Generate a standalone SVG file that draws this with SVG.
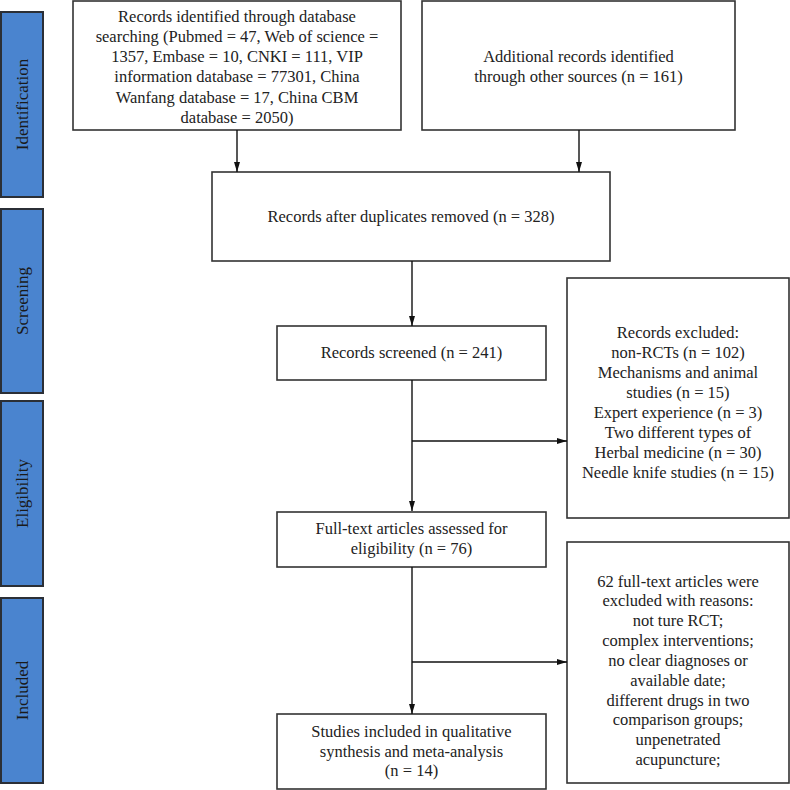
<svg xmlns="http://www.w3.org/2000/svg" width="790" height="790" viewBox="0 0 790 790">
<style>
.bg{fill:#ffffff}
.box{fill:#ffffff;stroke:#333333;stroke-width:1.6}
.bar{fill:#4a84cf;stroke:#2b2f36;stroke-width:2}
.t{font-family:"Liberation Serif","Times New Roman",serif;font-size:16.5px;fill:#222222;text-anchor:middle;dominant-baseline:central}
.bt{font-family:"Liberation Serif","Times New Roman",serif;font-size:17px;fill:#1a1a1a;text-anchor:middle;dominant-baseline:central}
.ln{stroke:#111111;stroke-width:1.4;fill:none}
</style>
<defs>
<marker id="ah" viewBox="0 0 10 6" refX="10" refY="3" markerWidth="10" markerHeight="6" markerUnits="userSpaceOnUse" orient="auto">
<path d="M0,0 L10,3 L0,6 Z" fill="#111111"/>
</marker>
</defs>
<rect class="bg" x="0" y="0" width="790" height="790"/>

<g id="bar-identification">
<rect class="bar" x="1" y="12" width="42" height="185"/>
<text class="bt" transform="translate(22,104.5) rotate(-90)">Identification</text>
</g>
<g id="bar-screening">
<rect class="bar" x="1" y="209" width="42" height="184"/>
<text class="bt" transform="translate(22,301) rotate(-90)">Screening</text>
</g>
<g id="bar-eligibility">
<rect class="bar" x="1" y="401" width="42" height="185"/>
<text class="bt" transform="translate(22,493.5) rotate(-90)">Eligibility</text>
</g>
<g id="bar-included">
<rect class="bar" x="1" y="598" width="42" height="185"/>
<text class="bt" transform="translate(22,690.5) rotate(-90)">Included</text>
</g>

<g id="node-database">
<rect class="box" x="73" y="1" width="328" height="129"/>
<text class="t" x="237" y="16">Records identified through database</text>
<text class="t" x="237" y="36">searching (Pubmed = 47, Web of science =</text>
<text class="t" x="237" y="56">1357, Embase = 10, CNKI = 111, VIP</text>
<text class="t" x="237" y="76">information database = 77301, China</text>
<text class="t" x="237" y="97">Wanfang database = 17, China CBM</text>
<text class="t" x="237" y="117">database = 2050)</text>
</g>

<g id="node-additional">
<rect class="box" x="422" y="1" width="313" height="129"/>
<text class="t" x="578.5" y="56">Additional records identified</text>
<text class="t" x="578.5" y="76">through other sources (n = 161)</text>
</g>

<g id="node-duplicates">
<rect class="box" x="212" y="172" width="398" height="89"/>
<text class="t" x="411" y="216">Records after duplicates removed (n = 328)</text>
</g>

<g id="node-screened">
<rect class="box" x="277" y="326" width="269" height="54"/>
<text class="t" x="411.5" y="352">Records screened (n = 241)</text>
</g>

<g id="node-excluded1">
<rect class="box" x="567" y="278" width="222" height="240"/>
<text class="t" x="678" y="332">Records excluded:</text>
<text class="t" x="678" y="352">non-RCTs (n = 102)</text>
<text class="t" x="678" y="372">Mechanisms and animal</text>
<text class="t" x="678" y="392">studies (n = 15)</text>
<text class="t" x="678" y="412">Expert experience (n = 3)</text>
<text class="t" x="678" y="432">Two different types of</text>
<text class="t" x="678" y="452">Herbal medicine (n = 30)</text>
<text class="t" x="678" y="472">Needle knife studies (n = 15)</text>
</g>

<g id="node-fulltext">
<rect class="box" x="277" y="512" width="269" height="55"/>
<text class="t" x="411.5" y="528">Full-text articles assessed for</text>
<text class="t" x="411.5" y="548">eligibility (n = 76)</text>
</g>

<g id="node-excluded2">
<rect class="box" x="567" y="542" width="222" height="241"/>
<text class="t" x="678" y="581">62 full-text articles were</text>
<text class="t" x="678" y="600">excluded with reasons:</text>
<text class="t" x="678" y="620">not ture RCT;</text>
<text class="t" x="678" y="640">complex interventions;</text>
<text class="t" x="678" y="660">no clear diagnoses or</text>
<text class="t" x="678" y="680">available date;</text>
<text class="t" x="678" y="700">different drugs in two</text>
<text class="t" x="678" y="719">comparison groups;</text>
<text class="t" x="678" y="739">unpenetrated</text>
<text class="t" x="678" y="759">acupuncture;</text>
</g>

<g id="node-included">
<rect class="box" x="277" y="714" width="269" height="75"/>
<text class="t" x="411.5" y="731">Studies included in qualitative</text>
<text class="t" x="411.5" y="751">synthesis and meta-analysis</text>
<text class="t" x="411.5" y="770">(n = 14)</text>
</g>

<g id="connectors">
<line class="ln" x1="237" y1="130" x2="237" y2="172" marker-end="url(#ah)"/>
<line class="ln" x1="579" y1="130" x2="579" y2="172" marker-end="url(#ah)"/>
<line class="ln" x1="412" y1="261" x2="412" y2="326" marker-end="url(#ah)"/>
<line class="ln" x1="412" y1="380" x2="412" y2="511" marker-end="url(#ah)"/>
<line class="ln" x1="412" y1="441" x2="567" y2="441" marker-end="url(#ah)"/>
<line class="ln" x1="412" y1="567" x2="412" y2="714" marker-end="url(#ah)"/>
<line class="ln" x1="412" y1="662" x2="567" y2="662" marker-end="url(#ah)"/>
</g>
</svg>
